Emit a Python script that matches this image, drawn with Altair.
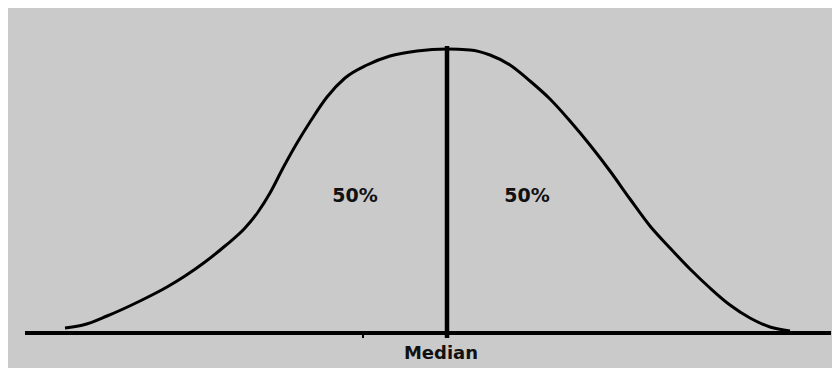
import altair as alt
import pandas as pd

# Curve: horizontal position and height above the baseline
curve_x = [65, 83, 107, 140, 167, 185, 205, 225, 245, 258, 270, 283, 297, 310, 327, 345,
           367, 390, 417, 447, 470, 490, 510, 530, 550, 570, 590, 610, 630, 650, 670,
           690, 710, 730, 750, 770, 790]
curve_y = [5, 8, 17, 32, 46, 57, 71, 87, 105, 121, 140, 165, 190, 211, 236, 255,
           268, 277, 282, 284, 283, 278, 268, 252, 234, 212, 188, 162, 134, 107, 85,
           64, 45, 28, 15, 6, 2]

axis_x = [25, 831]
median_x = 447
median_top = 287
median_bottom = -5
tick_x = 363
labels = ["50%", "50%"]
label_x = [355, 527]
label_y = [137, 137]
axis_title = "Median"
axis_title_x = 441
axis_title_y = -21

xs = alt.Scale(domain=[8, 832], nice=False, zero=False)
ys = alt.Scale(domain=[-35, 325], nice=False, zero=False)

curve_df = pd.DataFrame({"x": curve_x, "y": curve_y})
curve = alt.Chart(curve_df).mark_line(color="black", strokeWidth=3, interpolate="monotone").encode(
    x=alt.X("x:Q", scale=xs, axis=None),
    y=alt.Y("y:Q", scale=ys, axis=None),
    order="x:Q",
)

base_df = pd.DataFrame({"x": [axis_x[0]], "x2": [axis_x[1]], "y": [0]})
baseline = alt.Chart(base_df).mark_rule(color="black", strokeWidth=4).encode(
    x=alt.X("x:Q", scale=xs, axis=None), x2="x2:Q",
    y=alt.Y("y:Q", scale=ys, axis=None),
)

med_df = pd.DataFrame({"x": [median_x], "y": [median_bottom], "y2": [median_top]})
median = alt.Chart(med_df).mark_rule(color="black", strokeWidth=4.5).encode(
    x=alt.X("x:Q", scale=xs, axis=None),
    y=alt.Y("y:Q", scale=ys, axis=None), y2="y2:Q",
)

tick_df = pd.DataFrame({"x": [tick_x], "y": [median_bottom], "y2": [0]})
tick = alt.Chart(tick_df).mark_rule(color="black", strokeWidth=2).encode(
    x=alt.X("x:Q", scale=xs, axis=None),
    y=alt.Y("y:Q", scale=ys, axis=None), y2="y2:Q",
)

lab_df = pd.DataFrame({"x": label_x, "y": label_y, "t": labels})
lab = alt.Chart(lab_df).mark_text(font="DejaVu Sans", fontWeight="bold", fontSize=19,
                                  color="#111111", align="center", baseline="middle").encode(
    x=alt.X("x:Q", scale=xs, axis=None),
    y=alt.Y("y:Q", scale=ys, axis=None),
    text="t:N",
)

title_df = pd.DataFrame({"x": [axis_title_x], "y": [axis_title_y], "t": [axis_title]})
title = alt.Chart(title_df).mark_text(font="DejaVu Sans", fontWeight="bold", fontSize=18,
                                      color="#111111", align="center", baseline="middle").encode(
    x=alt.X("x:Q", scale=xs, axis=None),
    y=alt.Y("y:Q", scale=ys, axis=None),
    text="t:N",
)

chart = alt.layer(curve, baseline, tick, median, lab, title).properties(
    width=824, height=360, background="#cacaca",
    autosize=alt.AutoSizeParams(type="none"), padding=0,
).configure_view(stroke=None)

chart.save("out.html", embed_options={"renderer": "svg", "actions": False})
